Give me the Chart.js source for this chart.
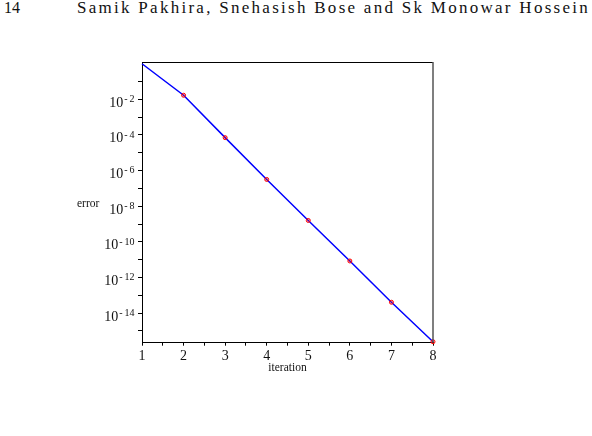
<!DOCTYPE html>
<html><head><meta charset="utf-8">
<script src="https://cdn.jsdelivr.net/npm/chart.js@4/dist/chart.umd.min.js"></script>
<style>
html,body{margin:0;padding:0;background:#fff;}
#wrap{position:relative;width:592px;height:436px;overflow:hidden;background:#fff;}
#c{position:absolute;left:0;top:0;}
.hdr{position:absolute;top:0;font-family:'Liberation Serif','Times New Roman',serif;font-size:17px;line-height:15px;color:#111;white-space:nowrap;}
</style></head>
<body><div id="wrap">
<div class="hdr" id="pg" style="left:4px;font-size:16px">14</div>
<div class="hdr" id="auth" style="left:77px">Samik Pakhira, Snehasish Bose and Sk Monowar Hossein</div>
<canvas id="c" width="592" height="436"></canvas>
</div>
<script>
// ---- data ----
const iterations = [1, 2, 3, 4, 5, 6, 7, 8];
const errors = [1, 1.7e-2, 7.1e-5, 3.2e-7, 1.6e-9, 8.5e-12, 4.1e-14, 2.5e-16];
const yTickExponents = [-1, -2, -3, -4, -5, -6, -7, -8, -9, -10, -11, -12, -13, -14, -15];
const yLabelExponents = [-2, -4, -6, -8, -10, -12, -14];
const xTickValues = [1, 1.5, 2, 2.5, 3, 3.5, 4, 4.5, 5, 5.5, 6, 6.5, 7, 7.5, 8];
const xLabelValues = [1, 2, 3, 4, 5, 6, 7, 8];
const xTitle = 'iteration';
const yTitle = 'error';

// header width fit via letter spacing
const auth = document.getElementById('auth');
const txt = auth.textContent;
const w = auth.offsetWidth;
auth.style.letterSpacing = Math.max(0, (511 - w) / (txt.length - 1)) + 'px';

const FONT = "'Liberation Serif','Times New Roman',serif";

const decor = {
  id: 'decor',
  afterDraw(chart) {
    const { ctx, chartArea: a, scales: { y } } = chart;
    ctx.save();
    ctx.strokeStyle = '#000'; ctx.lineWidth = 1;
    ctx.beginPath(); ctx.moveTo(a.left, a.top + 0.5); ctx.lineTo(a.right, a.top + 0.5); ctx.stroke();
    ctx.strokeStyle = '#555'; ctx.lineWidth = 1.5;
    ctx.beginPath(); ctx.moveTo(a.right, a.top); ctx.lineTo(a.right, a.bottom); ctx.stroke();
    ctx.fillStyle = '#111';
    ctx.textBaseline = 'alphabetic';
    yLabelExponents.forEach(e => {
      const py = y.getPixelForValue(Math.pow(10, e));
      ctx.font = '10px ' + FONT;
      ctx.textAlign = 'right';
      const digits = String(-e);
      const dw = ctx.measureText(digits).width;
      const rx = a.left - 7.5;
      ctx.fillText(digits, rx, py + 2.8);
      ctx.fillText('-', rx - dw - 1.8, py + 2.8);
      const mw = ctx.measureText('-').width;
      ctx.font = '14px ' + FONT;
      ctx.fillText('10', rx - dw - 1.8 - mw - 1.2, py + 7.5);
    });
    ctx.font = '11.5px ' + FONT;
    ctx.textAlign = 'left';
    ctx.fillText(yTitle, 77, y.getPixelForValue(1e-8) + 0.5);
    ctx.textAlign = 'center';
    ctx.fillText(xTitle, (a.left + a.right) / 2, a.bottom + 28.5);
    ctx.restore();
  }
};

new Chart(document.getElementById('c'), {
  type: 'line',
  data: {
    datasets: [{
      data: iterations.map((it, i) => ({ x: it, y: errors[i] })),
      borderColor: '#0000ff',
      borderWidth: 1.5,
      tension: 0,
      fill: false,
      pointStyle: 'circle',
      pointRadius: ctx => ctx.dataIndex === 0 ? 0 : 2,
      pointBorderColor: '#ff0000',
      pointBackgroundColor: 'rgba(255,0,0,0.3)',
      pointBorderWidth: 1,
      clip: 5
    }]
  },
  options: {
    responsive: false,
    animation: false,
    devicePixelRatio: 1,
    layout: { padding: { left: 0, top: 62, right: 159, bottom: 0 } },
    plugins: { legend: { display: false }, tooltip: { enabled: false } },
    scales: {
      x: {
        type: 'linear', min: 1, max: 8, bounds: 'data',
        afterBuildTicks: s => { s.ticks = xTickValues.map(v => ({ value: v })); },
        afterFit: s => { s.height = 93.3; },
        grid: { display: true, drawOnChartArea: false, drawTicks: true, tickLength: 3, color: '#000', lineWidth: 1 },
        border: { display: true, color: '#000', width: 1 },
        ticks: {
          autoSkip: false, maxRotation: 0, padding: 2, color: '#111',
          font: { family: FONT, size: 14 },
          callback: v => xLabelValues.includes(v) ? String(v) : ''
        }
      },
      y: {
        type: 'logarithmic', min: 2.2e-16, max: 1.25, bounds: 'data',
        afterBuildTicks: s => { s.ticks = yTickExponents.map(e => ({ value: Math.pow(10, e) })); },
        afterFit: s => { s.width = 142; },
        grid: { display: true, drawOnChartArea: false, drawTicks: true, tickLength: 4, color: '#000', lineWidth: 1 },
        border: { display: true, color: '#000', width: 1 },
        ticks: { autoSkip: false, callback: () => '' }
      }
    }
  },
  plugins: [decor]
});
</script>
</body></html>
